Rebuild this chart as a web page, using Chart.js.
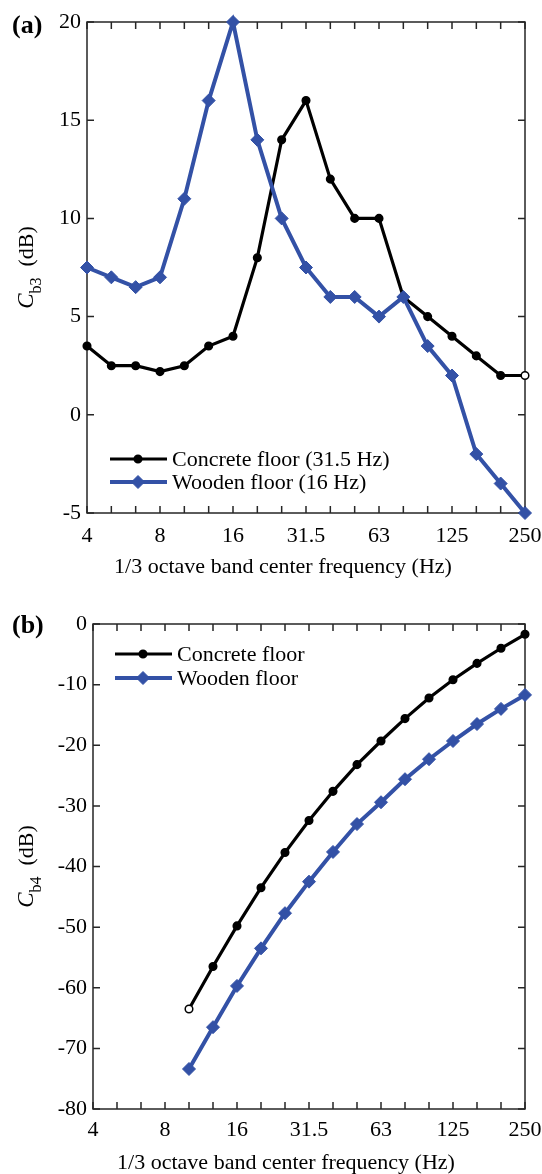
<!DOCTYPE html>
<html>
<head>
<meta charset="utf-8">
<script src="https://cdn.jsdelivr.net/npm/chart.js@4.4.0/dist/chart.umd.min.js"></script>
<style>
  html, body { margin: 0; padding: 0; background: #fff; }
  body { width: 542px; height: 1174px; position: relative; overflow: hidden; }
  canvas { position: absolute; left: 0; }
  #chartA { top: 0; }
  #chartB { top: 588px; }
</style>
</head>
<body>
<canvas id="chartA" width="542" height="588"></canvas>
<canvas id="chartB" width="542" height="586"></canvas>
<script>
// 1/3 octave bands, only every third one gets a label
var bands = ['4', '5', '6.3', '8', '10', '12.5', '16', '20', '25', '31.5', '40', '50', '63', '80', '100', '125', '160', '200', '250'];
var bandLabels = ['4', '8', '16', '31.5', '63', '125', '250'];

// (a) Cb3
var concreteA = [3.5, 2.5, 2.5, 2.2, 2.5, 3.5, 4, 8, 14, 16, 12, 10, 10, 6, 5, 4, 3, 2, 2];
var woodenA = [7.5, 7, 6.5, 7, 11, 16, 20, 14, 10, 7.5, 6, 6, 5, 6, 3.5, 2, -2, -3.5, -5];

// (b) Cb4, starts at 10 Hz
var concreteB = [null, null, null, null, -63.5, -56.5, -49.8, -43.5, -37.7, -32.4, -27.6, -23.2, -19.3, -15.6, -12.2, -9.2, -6.5, -4.0, -1.7];
var woodenB = [null, null, null, null, -73.4, -66.5, -59.7, -53.5, -47.7, -42.5, -37.6, -33.0, -29.4, -25.6, -22.3, -19.3, -16.5, -14.0, -11.7];

var xTitle = '1/3 octave band center frequency (Hz)';
var serif = '"Liberation Serif", "Times New Roman", serif';
var blue = '#3351a6';

function drawYTitle(ctx, cx, cy, sub) {
  ctx.save();
  ctx.translate(cx, cy);
  ctx.rotate(-Math.PI / 2);
  ctx.textAlign = 'left';
  ctx.textBaseline = 'alphabetic';
  ctx.fillStyle = '#000';
  var fC = 'italic 23px ' + serif, fS = '16px ' + serif, fN = '22px ' + serif;
  var rest = '  (dB)';
  ctx.font = fC; var wC = ctx.measureText('C').width;
  ctx.font = fS; var wS = ctx.measureText(sub).width;
  ctx.font = fN; var wR = ctx.measureText(rest).width;
  var x0 = -(wC + wS + wR) / 2;
  ctx.font = fC; ctx.fillText('C', x0, 0);
  ctx.font = fS; ctx.fillText(sub, x0 + wC, 8);
  ctx.font = fN; ctx.fillText(rest, x0 + wC + wS, 0);
  ctx.restore();
}

// box, inward ticks, panel letter, axis titles and legend
var decor = {
  id: 'decor',
  beforeDatasetsDraw: function (chart) {
    var ctx = chart.ctx, a = chart.chartArea, xs = chart.scales.x, ys = chart.scales.y;
    ctx.save();
    ctx.strokeStyle = '#262626';
    ctx.lineWidth = 1.5;
    ctx.strokeRect(a.left, a.top, a.right - a.left, a.bottom - a.top);
    ctx.beginPath();
    xs.ticks.forEach(function (t, i) {
      var px = xs.getPixelForTick(i);
      ctx.moveTo(px, a.bottom); ctx.lineTo(px, a.bottom - 7);
      ctx.moveTo(px, a.top); ctx.lineTo(px, a.top + 7);
    });
    ys.ticks.forEach(function (t, i) {
      var py = ys.getPixelForTick(i);
      ctx.moveTo(a.left, py); ctx.lineTo(a.left + 7, py);
      ctx.moveTo(a.right, py); ctx.lineTo(a.right - 7, py);
    });
    ctx.stroke();
    ctx.restore();
  },
  afterDraw: function (chart, args, opts) {
    var ctx = chart.ctx, a = chart.chartArea;
    ctx.save();
    ctx.fillStyle = '#000';
    ctx.font = 'bold 26px ' + serif;
    ctx.textAlign = 'left';
    ctx.textBaseline = 'alphabetic';
    ctx.fillText(opts.panel, 12, opts.panelY);
    ctx.font = '22px ' + serif;
    ctx.textAlign = 'center';
    ctx.textBaseline = 'middle';
    ctx.fillText(xTitle, opts.titleX, opts.titleY);
    ctx.restore();

    drawYTitle(ctx, 33, (a.top + a.bottom) / 2, opts.sub);

    // legend: line sample with marker, then text
    var lx = a.left + opts.legendDx, ly = opts.legendY;
    chart.data.datasets.forEach(function (ds, i) {
      var y = ly + i * opts.legendGap;
      ctx.save();
      ctx.strokeStyle = ds.borderColor;
      ctx.lineWidth = ds.borderWidth;
      ctx.beginPath();
      ctx.moveTo(lx, y); ctx.lineTo(lx + 57, y);
      ctx.stroke();
      ctx.fillStyle = ds.borderColor;
      ctx.lineWidth = ds.pointBorderWidth;
      Chart.helpers.drawPoint(ctx, { pointStyle: ds.pointStyle, radius: ds.pointRadius, rotation: 0, borderWidth: ds.pointBorderWidth }, lx + 28, y);
      ctx.fillStyle = '#000';
      ctx.font = '22px ' + serif;
      ctx.textBaseline = 'middle';
      ctx.fillText(ds.label, lx + 62, y + 1);
      ctx.restore();
    });
  }
};

function makeChart(id, o) {
  var concreteFill = o.concrete.map(function (v, i) { return i === o.openPoint ? '#fff' : '#000'; });
  return new Chart(document.getElementById(id), {
    type: 'line',
    data: {
      labels: bands,
      datasets: [{
        label: o.names[0],
        data: o.concrete,
        order: 1,
        borderColor: '#000',
        backgroundColor: '#000',
        pointBackgroundColor: concreteFill,
        pointBorderColor: '#000',
        borderWidth: 3.2,
        pointStyle: 'circle',
        pointRadius: 3.8,
        pointBorderWidth: 1.5,
        tension: 0,
        clip: 10
      }, {
        label: o.names[1],
        data: o.wooden,
        order: 0,
        borderColor: blue,
        backgroundColor: blue,
        pointBackgroundColor: blue,
        pointBorderColor: blue,
        borderWidth: 4,
        pointStyle: 'rectRot',
        pointRadius: 6.5,
        pointBorderWidth: 1,
        tension: 0,
        clip: 10
      }]
    },
    options: {
      responsive: false,
      animation: false,
      events: [],
      layout: { padding: o.pad },
      plugins: {
        legend: { display: false },
        tooltip: { enabled: false },
        decor: o.decor
      },
      scales: {
        x: {
          grid: { display: false, drawTicks: false },
          border: { display: false },
          ticks: {
            autoSkip: false,
            maxRotation: 0,
            padding: o.xPad,
            color: '#000',
            font: { family: serif, size: 22 },
            callback: function (v) {
              var l = this.getLabelForValue(v);
              return bandLabels.indexOf(l) >= 0 ? l : '';
            }
          },
          afterFit: function (s) {
            s.height = 65;
            s.paddingLeft = 0;
            s.paddingRight = 0;
          }
        },
        y: {
          min: o.yMin,
          max: o.yMax,
          grid: { display: false, drawTicks: false },
          border: { display: false },
          ticks: {
            stepSize: o.yStep,
            padding: 6,
            color: '#000',
            font: { family: serif, size: 22 }
          },
          afterFit: function (s) { s.width = o.yWidth; }
        }
      }
    },
    plugins: [decor]
  });
}

makeChart('chartA', {
  concrete: concreteA,
  wooden: woodenA,
  names: ['Concrete floor (31.5 Hz)', 'Wooden floor (16 Hz)'],
  openPoint: 18,
  pad: { left: 0, right: 17, top: 22, bottom: 10 },
  xPad: 10,
  yMin: -5, yMax: 20, yStep: 5,
  yWidth: 87,
  decor: { panel: '(a)', panelY: 33, sub: 'b3', titleX: 283, titleY: 567, legendDx: 23, legendY: 459, legendGap: 23 }
});

makeChart('chartB', {
  concrete: concreteB,
  wooden: woodenB,
  names: ['Concrete floor', 'Wooden floor'],
  openPoint: 4,
  pad: { left: 0, right: 17, top: 36, bottom: 0 },
  xPad: 8,
  yMin: -80, yMax: 0, yStep: 10,
  yWidth: 93,
  decor: { panel: '(b)', panelY: 45, sub: 'b4', titleX: 286, titleY: 575, legendDx: 22, legendY: 66, legendGap: 24 }
});
</script>
</body>
</html>
